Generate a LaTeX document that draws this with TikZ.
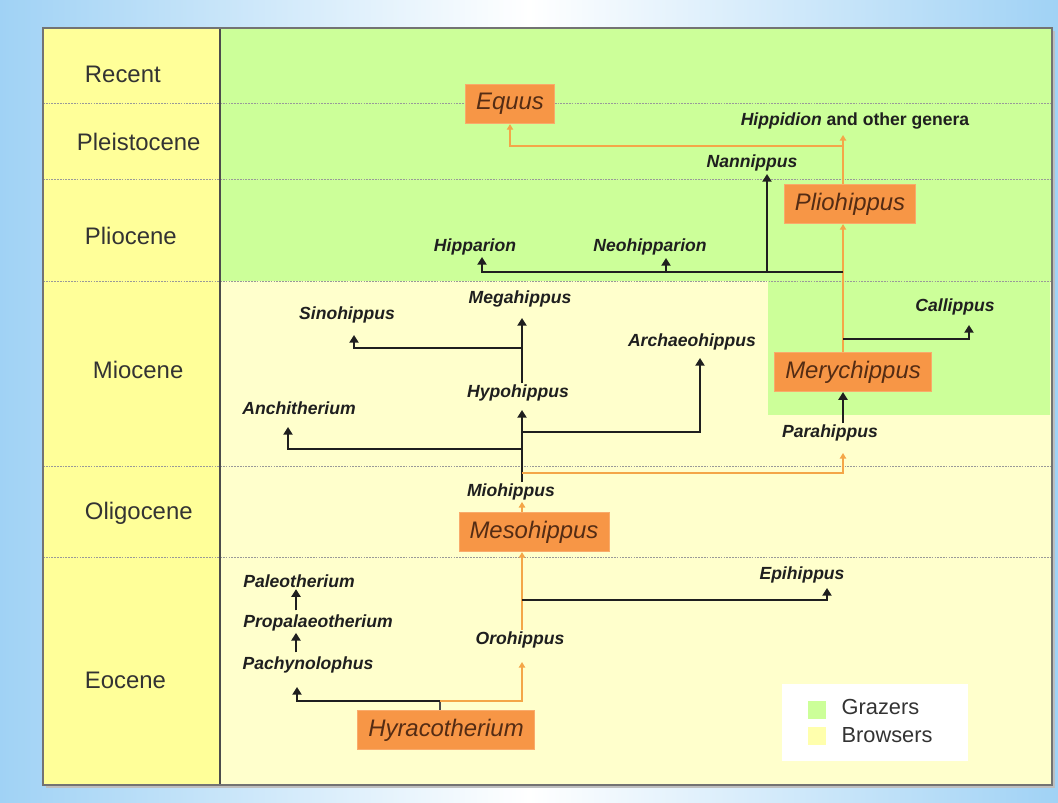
\documentclass[tikz,border=0pt]{standalone}
\usepackage{fontspec}
\setmainfont{Liberation Sans}
\usetikzlibrary{arrows.meta,positioning}

\definecolor{graze}{RGB}{204,255,153}
\definecolor{browse}{RGB}{255,255,204}
\definecolor{eracol}{RGB}{255,255,153}
\definecolor{boxorange}{RGB}{247,150,70}
\definecolor{lineorange}{RGB}{244,166,72}
\definecolor{boxtext}{RGB}{84,44,20}
\definecolor{skyblue}{RGB}{160,210,245}

\begin{document}
\begin{tikzpicture}[
    x=0.025cm, y=-0.025cm,
    era/.style={anchor=west, text=black!80, font=\fontsize{17}{20}\selectfont},
    genus/.style={
        rectangle, fill=boxorange, draw=boxorange!80!white, line width=0.6pt,
        minimum height=28pt, inner xsep=7.5pt, text=boxtext,
        font=\fontsize{17}{20}\selectfont\itshape
    },
    taxon/.style={inner sep=1pt, text=black!88, font=\fontsize{12.5}{15}\selectfont\bfseries\itshape},
    branch/.style={-{Triangle[width=6.5pt,length=5.5pt]}, line width=1.8pt, draw=black!88},
    lineage/.style={-{Triangle[width=4.5pt,length=4pt]}, line width=1.5pt, draw=lineorange},
    stem/.style={line width=1pt, draw=black!70},
    swatch/.style={minimum size=12.5pt, inner sep=0pt},
    key/.style={font=\fontsize{15.5}{18}\selectfont, text=black!80, inner sep=1pt},
]
\useasboundingbox (0,0) rectangle (1058,802);

% ── Background and time table ────────────────────────────────
\shade[left color=skyblue, right color=skyblue, middle color=white] (0,0) rectangle (1058,802);
\fill[black!25] (46,31) rectangle (1055,788);
\fill[browse] (220,28) rectangle (1052,785);
\fill[graze] (220,28) rectangle (1052,281);
\fill[graze] (768,281) rectangle (1050,415);
\fill[eracol] (43,28) rectangle (220,785);
\foreach \y in {103,179,281,466,557}
    \draw[black!40, line width=0.6pt, dash pattern=on 1.2pt off 0.8pt] (43,\y) -- (1052,\y);
\draw[black!70, line width=0.8pt] (220,28) -- (220,785);
\draw[black!55, line width=0.8pt] (43,28) rectangle (1052,785);

% ── Epochs ───────────────────────────────────────────────────
\node[era] (recent)      at (80,74)  {Recent};
\node[era] (pleistocene) at (72,142) {Pleistocene};
\node[era] (pliocene)    at (80,236) {Pliocene};
\node[era] (miocene)     at (88,370) {Miocene};
\node[era] (oligocene)   at (80,513) {Oligocene};
\node[era] (eocene)      at (80,680) {Eocene};

% ── Main lineage (boxes) ─────────────────────────────────────
\node[genus] (equus)         at (510,104) {Equus};
\node[genus] (pliohippus)    at (850,204) {Pliohippus};
\node[genus] (merychippus)   at (853,372) {Merychippus};
\node[genus] (mesohippus)    at (534,532) {Mesohippus};
\node[genus] (hyracotherium) at (446,730) {Hyracotherium};

% ── Side genera ──────────────────────────────────────────────
\node[taxon] (hippidion)        at (855,121) {Hippidion \upshape and other genera};
\node[taxon] (nannippus)        at (752,163) {Nannippus};
\node[taxon] (hipparion)        at (475,247) {Hipparion};
\node[taxon] (neohipparion)     at (650,247) {Neohipparion};
\node[taxon] (megahippus)       at (520,299) {Megahippus};
\node[taxon] (sinohippus)       at (347,315) {Sinohippus};
\node[taxon] (callippus)        at (955,307) {Callippus};
\node[taxon] (archaeohippus)    at (692,342) {Archaeohippus};
\node[taxon] (hypohippus)       at (518,393) {Hypohippus};
\node[taxon] (anchitherium)     at (299,408) {Anchitherium};
\node[taxon] (parahippus)       at (830,433) {Parahippus};
\node[taxon] (miohippus)        at (511,492) {Miohippus};
\node[taxon] (epihippus)        at (802,575) {Epihippus};
\node[taxon] (paleotherium)     at (299,581) {Paleotherium};
\node[taxon] (propalaeotherium) at (318,623) {Propalaeotherium};
\node[taxon] (orohippus)        at (520,640) {Orohippus};
\node[taxon] (pachynolophus)    at (308,665) {Pachynolophus};

% ── Junctions and arrow ends ─────────────────────────────────
\coordinate (trunk)    at (843,0);
\coordinate (stemx)    at (522,0);
\coordinate (eox)      at (296,0);
\coordinate (hyrafork) at (440,701);
\coordinate (pachytip) at (297,687);
\coordinate (orotip)   at (522,662);
\coordinate (epifork)  at (522,600);
\coordinate (epitip)   at (827,588);
\coordinate (miofork)  at (522,473);
\coordinate (paratip)  at (843,453);
\coordinate (hypotip)  at (522,410);
\coordinate (anchifork) at (522,449);
\coordinate (anchitip) at (288,427);
\coordinate (archfork) at (522,432);
\coordinate (archtip)  at (700,358);
\coordinate (megatip)  at (522,318);
\coordinate (sinofork) at (522,348);
\coordinate (sinotip)  at (354,335);
\coordinate (callifork) at (843,339);
\coordinate (callitip) at (969,325);
\coordinate (pliofork) at (843,272);
\coordinate (hipptip)  at (482,257);
\coordinate (neofork)  at (666,272);
\coordinate (neotip)   at (666,258);
\coordinate (nannfork) at (767,272);
\coordinate (nanntip)  at (767,174);
\coordinate (hippitip) at (843,135);
\coordinate (equusfork) at (843,146);

% ── Eocene ───────────────────────────────────────────────────
\draw[stem] (hyracotherium.north -| hyrafork) -- (hyrafork);
\draw[branch] (hyrafork) -| (pachytip);
\draw[lineage] (hyrafork) -| (orotip);
\draw[branch, shorten <=2pt] (pachynolophus.north -| eox) -- (propalaeotherium.south -| eox);
\draw[branch, shorten <=2pt] (propalaeotherium.north -| eox) -- (paleotherium.south -| eox);
\draw[lineage] (orohippus.north -| stemx) -- (mesohippus.south -| stemx);
\draw[branch] (epifork) -| (epitip);

% ── Oligocene / Miocene ──────────────────────────────────────
\draw[lineage] (mesohippus.north -| stemx) -- (miohippus.south -| stemx);
\draw[branch] (miohippus.north -| miofork) -- (hypotip);
\draw[lineage] (miofork) -| (paratip);
\draw[branch] (anchifork) -| (anchitip);
\draw[branch] (archfork) -| (archtip);
\draw[branch] (hypohippus.north -| stemx) -- (megatip);
\draw[branch] (sinofork) -| (sinotip);
\draw[branch] (parahippus.north -| trunk) -- (merychippus.south -| trunk);
\draw[lineage] (merychippus.north -| trunk) -- (pliohippus.south -| trunk);
\draw[branch] (callifork) -| (callitip);

% ── Pliocene / Pleistocene ───────────────────────────────────
\draw[branch] (pliofork) -| (hipptip);
\draw[branch] (neofork) -- (neotip);
\draw[branch] (nannfork) -- (nanntip);
\draw[lineage] (pliohippus.north -| trunk) -- (hippitip);
\draw[lineage] (equusfork) -| (equus.south);

% ── Legend ───────────────────────────────────────────────────
\node[fill=white, minimum width=186*0.025cm, minimum height=77*0.025cm] (legend) at (875,722) {};
\node[swatch, fill=graze]  (grazekey)  at (817,710) {};
\node[swatch, fill=eracol!60!browse] (browsekey) at (817,736) {};
\node[key, anchor=west] (grazers)  at (840,707) {Grazers};
\node[key, anchor=west] (browsers) at (840,735) {Browsers};

\end{tikzpicture}
\end{document}
